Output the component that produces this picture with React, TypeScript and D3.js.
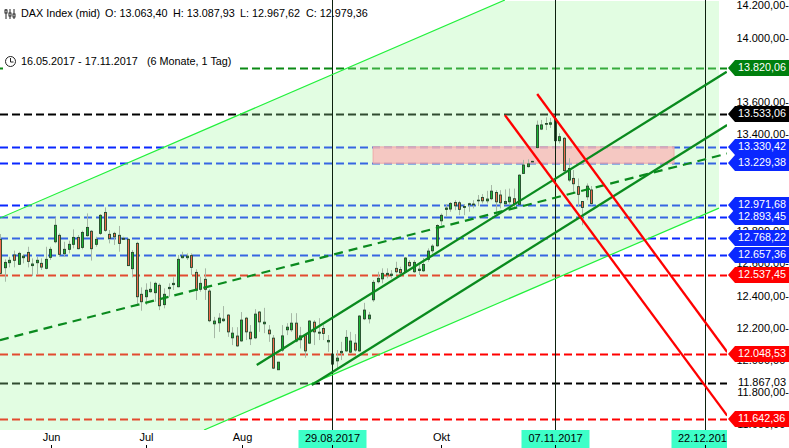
import * as React from 'react'
import { useEffect, useRef } from 'react'
import * as d3 from 'd3'

const WIDTH = 789
const HEIGHT = 448

// daily candles, oldest first
const opens = [12757,12581,12612,12660,12602,12643,12676,12594,12612,12608,12577,12645,12742,12782,12668,12695,12726,12769,12707,12780,12807,12726,12794,12924,12788,12794,12782,12763,12757,12575,12732,12416,12401,12432,12426,12472,12352,12451,12476,12463,12643,12643,12656,12552,12447,12509,12436,12233,12239,12252,12287,12146,12157,12127,12268,12181,12146,12306,12233,12194,12144,11948,12070,12196,12196,12237,12134,12163,12113,12243,12175,12204,12121,12045,12003,12053,12065,12057,12113,12065,12264,12264,12382,12494,12512,12537,12533,12577,12570,12556,12614,12556,12564,12562,12633,12686,12717,12872,12943,12945,12986,12984,12955,12972,12971,12996,13017,12996,13009,13048,13032,12978,12990,13009,12974,13166,13208,13238,13326,13441,13471,13471,13504,13369,13384,13125,13135,13084,12992,13021,13063.40]
const highs = [12790,12633,12649,12687,12680,12666,12711,12639,12649,12639,12711,12711,12893,12794,12742,12749,12819,12784,12811,12918,12815,12773,12914,12955,12815,12804,12840,12773,12763,12691,12742,12459,12484,12494,12494,12484,12453,12484,12521,12660,12680,12670,12670,12571,12525,12577,12448,12276,12299,12343,12293,12212,12212,12306,12276,12225,12324,12312,12332,12225,12163,11995,12225,12237,12299,12299,12214,12169,12256,12256,12268,12225,12163,12051,12070,12121,12194,12183,12169,12287,12363,12307,12504,12556,12577,12577,12566,12618,12587,12647,12628,12628,12600,12641,12701,12727,12850,12918,12976,12988,13000,12996,12976,12984,13000,13032,13038,13058,13094,13062,13062,13067,13072,13072,13161,13250,13254,13244,13494,13498,13514,13510,13510,13415,13392,13260,13187,13135,12994,13104,13087.93]
const lows = [12542,12494,12583,12583,12598,12608,12583,12529,12536,12567,12571,12629,12732,12649,12649,12670,12701,12695,12695,12773,12625,12711,12784,12804,12732,12722,12680,12753,12592,12521,12350,12314,12350,12426,12370,12318,12329,12401,12443,12459,12639,12629,12536,12381,12432,12381,12243,12144,12183,12245,12152,12101,12090,12121,12132,12101,12138,12183,12175,12121,11952,11946,12059,12163,12183,12118,12080,12022,12107,12101,12132,12132,12059,11977,11946,12008,12059,12049,12059,12059,12256,12235,12369,12484,12484,12515,12515,12546,12525,12554,12587,12549,12535,12554,12618,12670,12711,12845,12897,12928,12938,12907,12907,12928,12949,12963,12980,12980,13000,12928,12949,12969,12969,12949,12968,13163,13203,13235,13322,13435,13435,13448,13367,13352,13175,13114,13041,12959,12845,13000,12967.62]
const closes = [12546,12614,12627,12627,12670,12653,12620,12604,12627,12585,12633,12695,12844,12664,12695,12726,12769,12699,12800,12831,12699,12757,12906,12813,12763,12773,12732,12757,12594,12676,12401,12370,12441,12447,12484,12345,12416,12459,12484,12633,12653,12653,12583,12441,12484,12447,12252,12250,12268,12262,12183,12175,12096,12256,12183,12140,12293,12245,12243,12171,11958,11995,12158,12212,12237,12126,12158,12065,12250,12183,12181,12173,12130,11983,12020,12062,12149,12126,12070,12281,12318,12287,12490,12515,12546,12546,12541,12556,12549,12641,12593,12614,12572,12601,12684,12715,12843,12906,12951,12980,12965,12943,12961,12978,12976,13000,12996,13007,13056,12990,12984,12992,13019,12979,13155,13218,13225,13241,13465,13467,13476,13480,13369,13394,13183,13197,13102,13036,12955,13087,12979.36]
// bars that are drawn as dark flat bodies, including the two under the date lines
const darkBars = [73, 122]

// 13.800, 13.200 and 13.000 sit fully behind the level tags in the original
const priceTicks = [14200,14000,13600,13400,12800,12600,12400,12200,12000,11800,11600]

const greenLevels = [13820.06]
const blackLevels = [13533.06, 11867.03]
const blueLevels = [13330.42, 13229.38, 12971.68, 12893.45, 12768.22, 12657.36]
const redLevels = [12537.45, 12048.53, 11642.36]
const zone = [13330.42, 13229.38]

// trend lines as [bar index, price]
const channelArea: [number, number][] = [[-0.1,12889],[111,14242],[158.1,14242],[158.1,12951],[44.8,11574],[-0.1,11574]]
const channelUpper: [number, number][] = [[-0.1,12889],[111,14242]]
const channelLower: [number, number][] = [[44.8,11574],[158.1,12951]]
const trendTop: [number, number][] = [[56.4,11977],[159.8,13797]]
const trendBottom: [number, number][] = [[68.5,11853],[159.9,13466]]
const trendMid: [number, number][] = [[-0.1,12132],[159.9,13289]]
const fallA: [number, number][] = [[111,13528],[159.9,11663]]
const fallB: [number, number][] = [[118.1,13659],[159.9,12058]]

const monthLabels = ['Jun', 'Jul', 'Aug', 'Okt']
const monthIndex = [11.1, 32, 53.2, 97]
const dateLabels = ['29.08.2017', '07.11.2017', '22.12.2017']
const dateIndex = [73, 122, 155]

const fmt = (v: number) => {
  const s = v.toFixed(2).replace('.', ',')
  return s.slice(0, s.length - 6) + '.' + s.slice(s.length - 6)
}

const App = () => {
  const ref = useRef<SVGSVGElement | null>(null)

  useEffect(() => {
    const svg = d3.select(ref.current)
    svg.selectAll('*').remove()

    const x = d3.scaleLinear().domain([0, 155]).range([0.4, 704.9])
    const y = d3.scaleLinear().domain([11642.36, 13820.06]).range([419, 68])
    const py = (v: number) => Math.round(y(v)) + 0.5
    const line = d3.line<[number, number]>().x(d => x(d[0])).y(d => y(d[1]))

    const defs = svg.append('defs')
    defs.append('clipPath').attr('id', 'plot').append('rect')
      .attr('x', 0).attr('y', 0).attr('width', 727).attr('height', 430)
    defs.append('clipPath').attr('id', 'fill').append('rect')
      .attr('x', 0).attr('y', 1).attr('width', 719).attr('height', 429)
    defs.append('clipPath').attr('id', 'tag3').append('rect')
      .attr('x', 671).attr('y', 430).attr('width', 56).attr('height', 18)

    const plot = svg.append('g').attr('clip-path', 'url(#plot)')

    // horizontal levels
    const levels = [
      ...greenLevels.map(v => ({ v, c: '#0a8a14' })),
      ...blackLevels.map(v => ({ v, c: '#000000' })),
      ...blueLevels.map(v => ({ v, c: '#0a28ff' })),
      ...redLevels.map(v => ({ v, c: '#ff0000' })),
    ]
    plot.selectAll('.level').data(levels).enter().append('line')
      .attr('x1', 0).attr('x2', 727)
      .attr('y1', d => py(d.v)).attr('y2', d => py(d.v))
      .attr('stroke', d => d.c).attr('stroke-width', 2)
      .attr('stroke-dasharray', '8 4')

    // light channel over the levels
    plot.append('path')
      .attr('clip-path', 'url(#fill)')
      .attr('d', line(channelArea) + 'Z')
      .attr('fill', 'rgb(158,248,158)').attr('fill-opacity', 0.3)

    plot.append('rect')
      .attr('x', x(82)).attr('width', 674 - x(82))
      .attr('y', y(zone[0])).attr('height', y(zone[1]) - y(zone[0]))
      .attr('fill', 'rgb(250,185,185)').attr('fill-opacity', 0.78)
      .attr('stroke', 'rgb(240,170,170)').attr('stroke-width', 1)

    // candles
    const idx = d3.range(opens.length)
    const cx = (i: number) => Math.round(x(i)) + 0.5
    plot.selectAll('.wick').data(idx).enter().append('line')
      .attr('x1', cx).attr('x2', cx)
      .attr('y1', i => y(highs[i])).attr('y2', i => y(lows[i]))
      .attr('stroke', '#a6b8a6').attr('stroke-width', 1)
    plot.selectAll('.bar').data(idx).enter().append('rect')
      .attr('x', i => cx(i) - 1).attr('width', 2)
      .attr('y', i => y(Math.max(opens[i], closes[i])))
      .attr('height', i => Math.max(0.6, Math.abs(y(opens[i]) - y(closes[i]))))
      .attr('fill', i => darkBars.includes(i) ? '#1f3a22' : closes[i] >= opens[i] ? '#18b432' : '#f0694c')
      .attr('stroke', '#24482a').attr('stroke-width', 0.9)

    // date lines
    dateIndex.forEach(i => {
      plot.append('line')
        .attr('x1', Math.round(x(i)) + 0.5).attr('x2', Math.round(x(i)) + 0.5)
        .attr('y1', 0).attr('y2', 430)
        .attr('stroke', '#0c200e').attr('stroke-width', 1)
    })

    // trend lines
    const strokes: [[number, number][], string, number, string?][] = [
      [channelUpper, '#22f03c', 1.2],
      [channelLower, '#22f03c', 1.2],
      [trendTop, '#0a8a1e', 2.3],
      [trendBottom, '#0a8a1e', 2.3],
      [trendMid, '#0a8a1e', 2.2, '9 6'],
      [fallA, '#ff0000', 2.3],
      [fallB, '#ff0000', 2.3],
    ]
    strokes.forEach(([pts, c, w, dash]) => {
      plot.append('path')
        .attr('d', line(pts))
        .attr('fill', 'none').attr('stroke', c).attr('stroke-width', w)
        .attr('stroke-dasharray', dash ?? null)
    })

    const font = "'Liberation Sans', Arial, sans-serif"
    const text = (tx: number, ty: number, s: string, fill = '#000', anchor = 'start', size = 11) =>
      svg.append('text')
        .attr('x', tx).attr('y', ty).attr('dy', '0.35em')
        .attr('font-family', font).attr('font-size', size)
        .attr('fill', fill).attr('text-anchor', anchor)
        .text(s)

    // price axis
    priceTicks.forEach(v => {
      text(789, y(v) - 1.2, fmt(v) + '-', '#000', 'end')
    })
    text(786, y(blackLevels[1]) - 0.5, fmt(blackLevels[1]), '#000', 'end')

    // level tags
    const tag = (v: number, c: string) => {
      const t = Math.round(y(v))
      svg.append('path')
        .attr('d', `M728,${t}L735,${t - 8}H789V${t + 8}H735Z`)
        .attr('fill', c)
      text(738, t - 0.5, fmt(v), '#fff', 'start', 10.8)
    }
    tag(greenLevels[0], '#007f0e')
    tag(blackLevels[0], '#000000')
    blueLevels.forEach(v => tag(v, '#0a28ff'))
    redLevels.forEach(v => tag(v, '#ff0000'))

    // time axis
    monthLabels.forEach((m, i) => {
      const mx = Math.round(x(monthIndex[i])) + 0.5
      text(mx, 437, m, '#000', 'middle')
      svg.append('line').attr('x1', mx).attr('x2', mx).attr('y1', 445).attr('y2', 448).attr('stroke', '#000')
    })
    dateLabels.forEach((d, i) => {
      const mx = Math.round(x(dateIndex[i])) + 0.5
      const clipped = i === 2
      const g = svg.append('g').attr('clip-path', clipped ? 'url(#tag3)' : null)
      g.append('rect').attr('x', mx - 34).attr('y', 430).attr('width', 68).attr('height', 18).attr('fill', '#3dffc8')
      g.append('text')
        .attr('x', mx).attr('y', 438).attr('dy', '0.35em')
        .attr('font-family', font).attr('font-size', 11)
        .attr('text-anchor', 'middle').text(d)
      svg.append('line').attr('x1', mx).attr('x2', mx).attr('y1', 445).attr('y2', 448).attr('stroke', '#000')
    })

    // header
    svg.append('rect').attr('x', 3).attr('y', 48).attr('width', 236).attr('height', 24).attr('fill', '#fff')
    text(21, 13, 'DAX Index (mid)', '#000', 'start', 10.8)
    text(105, 13, 'O: 13.063,40', '#000', 'start', 10.8)
    text(173, 13, 'H: 13.087,93', '#000', 'start', 10.8)
    text(240, 13, 'L: 12.967,62', '#000', 'start', 10.8)
    text(306, 13, 'C: 12.979,36', '#000', 'start', 10.8)
    text(21, 61, '16.05.2017 - 17.11.2017', '#000', 'start', 10.8)
    text(147, 61, '(6 Monate, 1 Tag)', '#000', 'start', 10.8)

    // small icons
    const ic = svg.append('g').attr('fill', 'none').attr('stroke', '#222').attr('stroke-width', 1)
    ;[6, 10, 14].forEach((ix, k) => {
      ic.append('line').attr('x1', ix).attr('x2', ix).attr('y1', 9).attr('y2', 19)
      ic.append('rect').attr('x', ix - 1).attr('y', [10, 13, 14][k]).attr('width', 2).attr('height', 3).attr('fill', '#fff')
    })
    ic.append('circle').attr('cx', 10.5).attr('cy', 61.5).attr('r', 5)
    ic.append('path').attr('d', 'M10.5,58V62H13.5')
  }, [])

  return (
    <svg
      ref={ref}
      width={WIDTH}
      height={HEIGHT}
      style={{ position: 'absolute', left: 0, top: 0, background: '#fff' }}
    />
  )
}

export default App
